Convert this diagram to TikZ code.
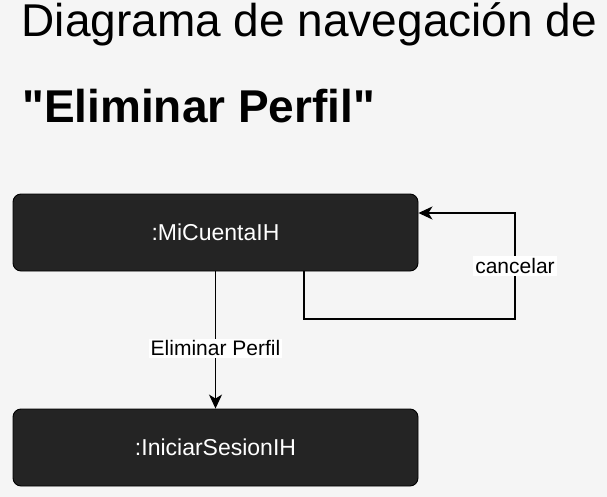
\documentclass[tikz,border=0pt]{standalone}
\usepackage{fontspec}
\setmainfont{Liberation Sans}[Ligatures=TeXOff]
\usetikzlibrary{arrows.meta,positioning}

\definecolor{fondo}{HTML}{F5F5F5}
\definecolor{caja}{HTML}{242424}

\begin{document}
\begin{tikzpicture}[x=1pt, y=-1pt,
        pantalla/.style={draw=black, fill=caja, text=white, rounded corners=8pt, line width=0.9pt,
            minimum width=405pt, minimum height=77pt, inner sep=0pt, font=\fontsize{23}{23}\selectfont},
        flecha/.style={draw=black, line width=1.3pt, -{Stealth[length=14pt, width=13pt, inset=4pt]}},
        etiqueta/.style={fill=white, inner sep=2pt, font=\fontsize{21}{21}\selectfont}]
        \fill[fondo] (0,0) rectangle (607,497);
        \node[anchor=base west, inner sep=0pt, font=\fontsize{46}{46}\selectfont] (titulo) at (21.5,37) {Diagrama de navegación de};
        \node[anchor=base west, inner sep=0pt, font=\fontsize{46}{46}\selectfont\bfseries] (subtitulo) at (22,123) {"Eliminar Perfil"};
        \node[pantalla] (cuenta) at (215.5,232.5) {:MiCuentaIH};
        \node[pantalla] (sesion) at (215.5,447.5) {:IniciarSesionIH};
        \coordinate (loopl) at (304,319);
        \coordinate (loopr) at (515,319);
        \coordinate (loopt) at (515,213);
        \draw[flecha] (cuenta.south) -- node[etiqueta, pos=0.56] {Eliminar Perfil} (sesion.north);
        \draw[flecha] (cuenta.south -| loopl) -- (loopl) -- (loopr) -- node[etiqueta, pos=0.5] {cancelar} (loopt) -- (loopt -| cuenta.east);
    \end{tikzpicture}
\end{document}
